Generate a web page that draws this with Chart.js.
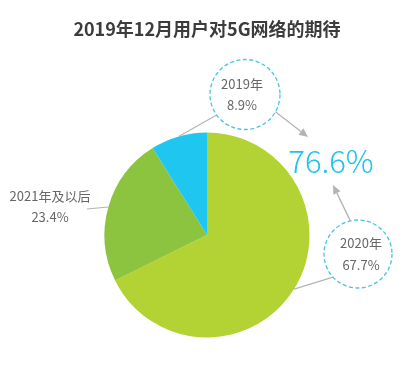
<!DOCTYPE html>
<html>
<head>
<meta charset="utf-8">
<script src="https://cdn.jsdelivr.net/npm/chart.js@4/dist/chart.umd.min.js"></script>
<style>
  html, body { margin: 0; padding: 0; background: #ffffff; }
  #c { display: block; }
</style>
</head>
<body>
<canvas id="c" width="406" height="374"></canvas>
<script>
// ---- data ----
const categories = ['2020年', '2021年及以后', '2019年'];
const shares = [67.7, 23.4, 8.9];
const titleText = '2019年12月用户对5G网络的期待';
const highlightCategories = ['2019年', '2020年']; // summed in the big callout

// ---- styles ----
const sliceColors = ['#b3d234', '#8cc43f', '#1fc6f0'];
const FONT = '"Noto Sans CJK SC", "Noto Sans", sans-serif';
const textGray = '#666666';
const lineGray = '#b4b4b4';
const dashCyan = '#45c3e3';

// annotation layout, offsets relative to pie centre (px)
const calloutLayout = {
  '2020年': { type: 'circle', cx: 151, cy: 19, r: 34, textDx: 3, attach: 137 },
  '2019年': { type: 'circle', cx: 38, cy: -140.5, r: 35, textDx: -3, attach: 144 },
  '2021年及以后': { type: 'plain', tx: -157, ty: -28, lineEndDx: -120 }
};

function fmt(v) { return v.toFixed(1) + '%'; }

const annotations = {
  id: 'annotations',
  afterDatasetsDraw(chart) {
    const ctx = chart.ctx;
    const meta = chart.getDatasetMeta(0);
    const first = meta.data[0];
    const pcx = first.x, pcy = first.y;
    ctx.save();
    ctx.textAlign = 'center';
    ctx.textBaseline = 'middle';
    const circles = {};
    meta.data.forEach((arc, i) => {
      const cat = categories[i];
      const L = calloutLayout[cat];
      const mid = (arc.startAngle + arc.endAngle) / 2;
      const ex = arc.x + Math.cos(mid) * arc.outerRadius;
      const ey = arc.y + Math.sin(mid) * arc.outerRadius;
      ctx.strokeStyle = lineGray;
      ctx.lineWidth = 1.2;
      ctx.setLineDash([]);
      if (L.type === 'circle') {
        const ccx = pcx + L.cx, ccy = pcy + L.cy;
        circles[cat] = { x: ccx, y: ccy, r: L.r };
        const a = L.attach * Math.PI / 180;
        ctx.beginPath();
        ctx.moveTo(ex, ey);
        ctx.lineTo(ccx + Math.cos(a) * L.r, ccy + Math.sin(a) * L.r);
        ctx.stroke();
        ctx.fillStyle = '#ffffff';
        ctx.beginPath();
        ctx.arc(ccx, ccy, L.r, 0, Math.PI * 2);
        ctx.fill();
        ctx.strokeStyle = dashCyan;
        ctx.lineWidth = 1.3;
        ctx.setLineDash([4, 2.5]);
        ctx.stroke();
        ctx.setLineDash([]);
        ctx.fillStyle = textGray;
        ctx.font = '13px ' + FONT;
        ctx.fillText(cat, ccx + L.textDx, ccy - 10.5);
        ctx.fillText(fmt(shares[i]), ccx + L.textDx, ccy + 11);
      } else {
        ctx.beginPath();
        ctx.moveTo(ex, ey);
        ctx.lineTo(pcx + L.lineEndDx, ey + 2);
        ctx.stroke();
        ctx.fillStyle = textGray;
        ctx.font = '13px ' + FONT;
        ctx.fillText(cat, pcx + L.tx, pcy + L.ty - 10.5);
        ctx.fillText(fmt(shares[i]), pcx + L.tx, pcy + L.ty + 10.5);
      }
    });

    // big total callout
    const total = highlightCategories
      .map(c => shares[categories.indexOf(c)])
      .reduce((a, b) => a + b, 0);
    const bx = pcx + 124, by = pcy - 74;
    ctx.fillStyle = '#1fc3ee';
    ctx.font = '300 31px ' + FONT;
    ctx.fillText(fmt(total), bx, by);

    function arrow(x1, y1, x2, y2) {
      const ang = Math.atan2(y2 - y1, x2 - x1);
      const hl = 9, hw = 4;
      const bxx = x2 - Math.cos(ang) * hl, byy = y2 - Math.sin(ang) * hl;
      ctx.strokeStyle = lineGray;
      ctx.lineWidth = 1.3;
      ctx.beginPath();
      ctx.moveTo(x1, y1);
      ctx.lineTo(bxx, byy);
      ctx.stroke();
      ctx.fillStyle = lineGray;
      ctx.beginPath();
      ctx.moveTo(x2, y2);
      ctx.lineTo(bxx + Math.sin(ang) * hw, byy - Math.cos(ang) * hw);
      ctx.lineTo(bxx - Math.sin(ang) * hw, byy + Math.cos(ang) * hw);
      ctx.closePath();
      ctx.fill();
    }
    const c19 = circles['2019年'], c20 = circles['2020年'];
    let a = 29.6 * Math.PI / 180;
    arrow(c19.x + Math.cos(a) * c19.r, c19.y + Math.sin(a) * c19.r, bx - 23, by - 24);
    a = -103 * Math.PI / 180;
    arrow(c20.x + Math.cos(a) * c20.r, c20.y + Math.sin(a) * c20.r, bx + 2, by + 24);
    ctx.restore();
  }
};

new Chart(document.getElementById('c'), {
  type: 'pie',
  data: {
    labels: categories,
    datasets: [{
      data: shares,
      backgroundColor: sliceColors,
      borderWidth: 0
    }]
  },
  options: {
    responsive: false,
    devicePixelRatio: 1,
    animation: false,
    layout: { padding: { top: 18.6, bottom: 36.5, left: 8, right: 0 } },
    plugins: {
      legend: { display: false },
      tooltip: { enabled: false },
      title: {
        display: true,
        text: titleText,
        color: '#3c3c3c',
        font: { family: FONT, size: 18, weight: 'bold', lineHeight: 1.2 },
        padding: { top: 0, bottom: 92.3 }
      }
    }
  },
  plugins: [annotations]
});
</script>
</body>
</html>
